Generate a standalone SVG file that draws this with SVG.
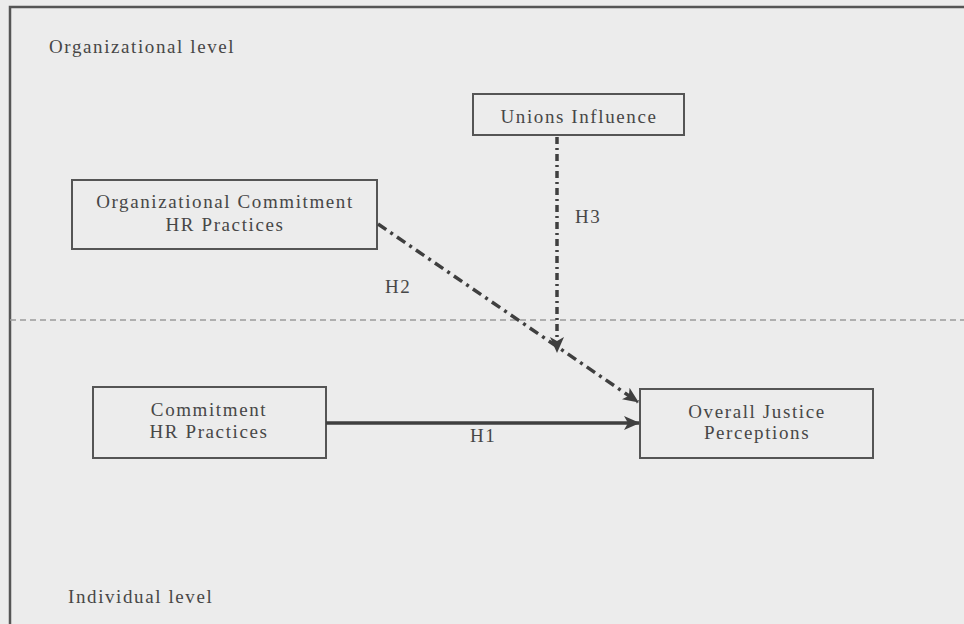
<svg xmlns="http://www.w3.org/2000/svg" width="964" height="624" viewBox="0 0 964 624">
  <style>
    .lbl { font-family: "Liberation Serif", "Times New Roman", serif; font-size: 19px; letter-spacing: 1.6px; fill: #474747; }
    .mid { text-anchor: middle; }
    .box { fill: none; stroke: #555; stroke-width: 2; }
    .frame { stroke: #555; stroke-width: 2.5; fill: none; }
    .divider { stroke: #9a9a9a; stroke-width: 1.5; stroke-dasharray: 6 4; fill: none; }
    .edge { fill: none; stroke: #3f3f3f; stroke-width: 3.5; }
  </style>
  <defs>
    <marker id="arrow" markerUnits="userSpaceOnUse" markerWidth="16" markerHeight="14" refX="15" refY="7" orient="auto">
      <path d="M0,0 L16,7 L0,14 L4,7 Z" fill="#3f3f3f"/>
    </marker>
  </defs>

  <!-- page background and frame -->
  <rect x="0" y="0" width="964" height="624" fill="#ececec"/>
  <path class="frame" d="M10,624 L10,7 L964,7"/>
  <line class="divider" x1="10" y1="320" x2="964" y2="320"/>

  <text class="lbl" x="49" y="53">Organizational level</text>
  <text class="lbl" x="68" y="603">Individual level</text>

  <!-- nodes -->
  <g id="unions-influence">
    <rect class="box" x="473" y="94" width="211" height="41"/>
    <text class="lbl mid" x="579" y="123">Unions Influence</text>
  </g>
  <g id="org-commitment-hr">
    <rect class="box" x="72" y="180" width="305" height="69"/>
    <text class="lbl mid" x="225" y="208">Organizational Commitment</text>
    <text class="lbl mid" x="225" y="231">HR Practices</text>
  </g>
  <g id="commitment-hr">
    <rect class="box" x="93" y="387" width="233" height="71"/>
    <text class="lbl mid" x="209" y="416">Commitment</text>
    <text class="lbl mid" x="209" y="438">HR Practices</text>
  </g>
  <g id="overall-justice">
    <rect class="box" x="640" y="389" width="233" height="69"/>
    <text class="lbl mid" x="757" y="418">Overall Justice</text>
    <text class="lbl mid" x="757" y="439">Perceptions</text>
  </g>

  <!-- connectors -->
  <g id="connectors">
    <line class="edge" x1="326" y1="423" x2="639" y2="423" marker-end="url(#arrow)"/>
    <line class="edge" x1="378" y1="224" x2="638" y2="402" stroke-dasharray="10 5 3 5" marker-end="url(#arrow)"/>
    <line class="edge" x1="557" y1="137" x2="557" y2="352" stroke-dasharray="7 4 2 4" marker-end="url(#arrow)"/>
  </g>

  <text class="lbl" x="470" y="442">H1</text>
  <text class="lbl" x="385" y="293">H2</text>
  <text class="lbl" x="575" y="223">H3</text>
</svg>
